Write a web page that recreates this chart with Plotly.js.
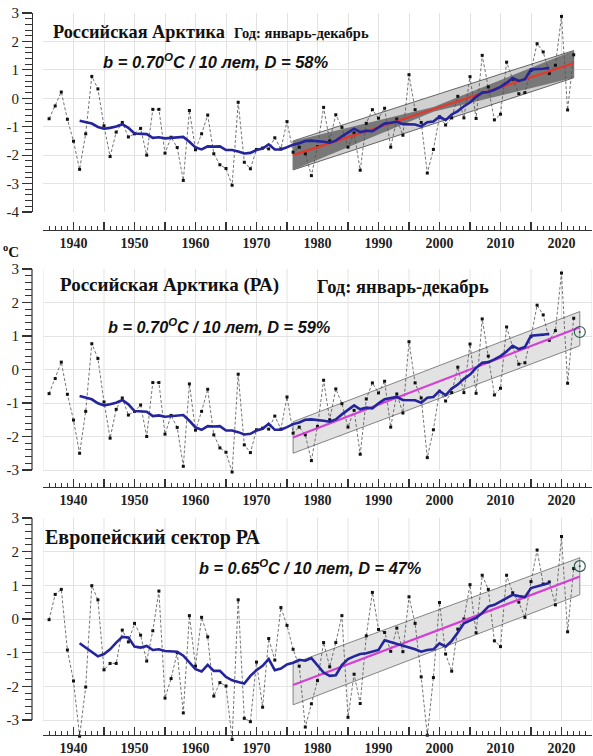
<!DOCTYPE html>
<html><head><meta charset="utf-8">
<script src="https://cdn.plot.ly/plotly-3.0.1.min.js"></script>
<style>html,body{margin:0;padding:0;background:#fff;}#chart{width:593px;height:756px;}</style>
</head><body><div id="chart"></div>
<script>
// ---------- DATA ----------
const firstYear = 1936;           // annual anomalies 1936..2022
const maFirstYear = 1941;         // smoothed curve 1941..2018

const raVals = [-0.72,-0.27,0.22,-0.74,-1.51,
 -2.5,-1.25,0.77,0.33,-0.97, -2.05,-1.19,-0.85,-1.36,-1.25,
 -1.06,-2.0,-0.39,-0.39,-1.93, -1.37,-1.73,-2.89,-0.43,-1.81,
 -1.25,-0.59,-1.95,-2.34,-2.47, -3.06,-0.14,-2.25,-2.48,-1.8,
 -1.75,-1.78,-1.39,-1.78,-0.82, -1.9,-1.72,-1.95,-2.72,-1.7,
 -0.32,-1.5,-0.58,-1.02,-1.72, -1.22,-2.53,-0.88,-0.4,-0.7,
 -0.35,-1.72,-0.73,-1.3,0.83, -0.4,-0.85,-2.63,-1.8,-0.65,
 -0.94,-0.69,0.07,-0.69,0.76, -0.71,1.51,0.4,-0.76,-0.56,
 1.27,0.67,0.16,0.2,0.98, 1.92,1.63,0.87,1.16,2.88,
 -0.41,1.53];

const raMA = [-0.79,-0.84,-0.89,-1.01,-1.07,
 -1.04,-0.99,-0.91,-1.04,-1.24, -1.24,-1.26,-1.39,-1.37,-1.41,
 -1.39,-1.37,-1.36,-1.53,-1.73, -1.8,-1.69,-1.7,-1.69,-1.82,
 -1.82,-1.87,-1.94,-1.92,-1.82, -1.77,-1.62,-1.8,-1.8,-1.72,
 -1.63,-1.58,-1.5,-1.49,-1.5, -1.53,-1.56,-1.49,-1.34,-1.21,
 -1.07,-1.19,-1.14,-1.16,-1.01, -0.89,-0.86,-0.82,-0.91,-0.92,
 -0.92,-0.99,-0.84,-0.82,-0.64, -0.77,-0.57,-0.45,-0.28,-0.15,
 0.05,0.2,0.22,0.3,0.4, 0.54,0.71,0.61,0.67,1.01,
 1.02,1.04,1.07];

const euVals = [-0.02,0.73,0.88,-0.92,-1.84,
 -3.48,-2.02,0.99,0.57,-1.51, -1.32,-1.32,-0.33,-0.68,-0.13,
 -0.48,-1.25,-0.35,0.83,-2.35, -1.77,-1.0,-2.79,0.1,-1.4,
 0.05,-0.53,-2.29,-1.89,-1.99, -3.58,0.57,-2.95,-3.05,-1.28,
 -2.62,-0.58,-1.22,0.34,-0.19, -0.9,-1.4,-3.21,-2.52,-1.83,
 -0.7,-1.42,-0.7,0.1,-2.92, -1.64,-2.51,-0.5,0.79,-0.31,
 -0.4,-0.96,-0.27,-0.97,0.66, -0.13,-1.72,-3.45,-1.74,0.49,
 -1.04,-1.55,-0.3,0.0,1.02, -0.41,1.3,0.88,-0.65,-0.82,
 1.3,0.78,0.5,0.05,1.11, 2.05,1.04,1.1,0.42,2.45,
 -0.38,1.5];

const euMA = [-0.72,-0.85,-1.0,-1.11,-1.04,
 -0.9,-0.7,-0.53,-0.55,-0.82, -0.85,-0.8,-0.92,-0.9,-0.95,
 -0.95,-0.97,-1.09,-1.29,-1.49, -1.56,-1.36,-1.54,-1.54,-1.72,
 -1.82,-1.87,-1.92,-1.69,-1.52, -1.39,-1.19,-1.52,-1.47,-1.35,
 -1.3,-1.21,-1.24,-1.16,-1.39, -1.59,-1.69,-1.67,-1.37,-1.19,
 -1.11,-1.04,-1.02,-0.98,-0.92, -0.63,-0.68,-0.75,-0.8,-0.85,
 -0.9,-0.97,-0.92,-0.9,-0.72, -0.82,-0.65,-0.4,-0.13,-0.05,
 0.03,0.18,0.37,0.42,0.52, 0.62,0.72,0.68,0.65,0.92,
 0.97,1.01,1.07];

// trends (1976 -> end) and their bands
const trend1Years = [1976, 2022];
const trend1Vals  = [-2.0, 1.23];
const band1Lower  = [-2.52, 0.72];
const band1Upper  = [-1.5, 1.68];
const band1DarkYears = [1976, 1999, 2022];
const band1DarkUpper = [-1.5, -0.31, 1.68];
const band1DarkLower = [-2.52, -0.47, 0.72];

const trend2Years = [1976, 2023];
const trend2Vals  = [-2.03, 1.26];
const band2Lower  = [-2.5, 0.71];
const band2Upper  = [-1.56, 1.73];

const trend3Years = [1976, 2023];
const trend3Vals  = [-1.96, 1.26];
const band3Lower  = [-2.55, 0.72];
const band3Upper  = [-1.32, 1.82];

const lastYear = [2023];
const lastRA = [1.12];
const lastEU = [1.57];

const xTickVals = [1935,1940,1945,1950,1955,1960,1965,1970,1975,1980,1985,1990,1995,2000,2005,2010,2015,2020,2025];
const xTickText = ['','1940','','1950','','1960','','1970','','1980','','1990','','2000','','2010','','2020',''];
const y1Ticks = [-4,-3,-2,-1,0,1,2,3];
const y23Ticks = [-3,-2,-1,0,1,2,3];

// ---------- BUILD ----------
const years = raVals.map((_, i) => firstYear + i);
const maYears = raMA.map((_, i) => maFirstYear + i);

const W = 593, H = 756;
const px = v => v / W;
const py = v => 1 - v / H;

function poly(yrs, lo, hi) {
  return { x: yrs.concat(yrs.slice().reverse()).concat([yrs[0]]),
           y: lo.concat(hi.slice().reverse()).concat([lo[0]]) };
}

function dataTrace(vals, xa, ya) {
  return { x: years, y: vals, xaxis: xa, yaxis: ya, type: 'scatter', mode: 'lines+markers',
    line: { color: '#505050', width: 0.8, dash: '3px,2px' },
    marker: { symbol: 'square', size: 3, color: '#111' }, hoverinfo: 'skip' };
}
function maTrace(vals, xa, ya) {
  return { x: maYears, y: vals, xaxis: xa, yaxis: ya, type: 'scatter', mode: 'lines',
    line: { color: '#24249c', width: 2.6 }, hoverinfo: 'skip' };
}
function bandTrace(yrs, lo, hi, xa, ya, fill, lc) {
  const p = poly(yrs, lo, hi);
  return { x: p.x, y: p.y, xaxis: xa, yaxis: ya, type: 'scatter', mode: 'lines', fill: 'toself',
    fillcolor: fill, line: { color: lc, width: lc === 'rgba(0,0,0,0)' ? 0 : 0.9 }, hoverinfo: 'skip' };
}
function lineTrace(xs, ys, xa, ya, color) {
  return { x: xs, y: ys, xaxis: xa, yaxis: ya, type: 'scatter', mode: 'lines',
    line: { color: color, width: 2.2 }, hoverinfo: 'skip' };
}
function circleTrace(vals, xa, ya) {
  return { x: lastYear, y: vals, xaxis: xa, yaxis: ya, type: 'scatter', mode: 'markers',
    marker: { symbol: 'circle-open-dot', size: 11, color: '#2f5d52', line: { width: 1.2 } },
    cliponaxis: false, hoverinfo: 'skip' };
}

const traces = [
  bandTrace(trend1Years, band1Lower, band1Upper, 'x', 'y', '#d0d0d0', '#555'),
  bandTrace(band1DarkYears, band1DarkLower, band1DarkUpper, 'x', 'y', '#787878', 'rgba(0,0,0,0)'),
  dataTrace(raVals, 'x', 'y'),
  lineTrace(trend1Years, trend1Vals, 'x', 'y', '#e5372a'),
  maTrace(raMA, 'x', 'y'),

  bandTrace(trend2Years, band2Lower, band2Upper, 'x2', 'y2', '#e2e2e2', '#777'),
  dataTrace(raVals, 'x2', 'y2'),
  lineTrace(trend2Years, trend2Vals, 'x2', 'y2', '#d43fd4'),
  maTrace(raMA, 'x2', 'y2'),
  circleTrace(lastRA, 'x2', 'y2'),

  bandTrace(trend3Years, band3Lower, band3Upper, 'x3', 'y3', '#e2e2e2', '#777'),
  dataTrace(euVals, 'x3', 'y3'),
  lineTrace(trend3Years, trend3Vals, 'x3', 'y3', '#d43fd4'),
  maTrace(euMA, 'x3', 'y3'),
  circleTrace(lastEU, 'x3', 'y3')
];

const AX = '#333';
const GRID = '#e3e3e3';
function xax(posPx, grid) {
  return { domain: [px(43), px(592)], range: [1935, 2025], anchor: 'free', position: py(posPx),
    tickmode: 'array', tickvals: xTickVals, ticktext: xTickText,
    ticks: 'inside', ticklen: 8, tickwidth: 1.2, tickcolor: AX,
    showline: true, linecolor: AX, linewidth: 1.2,
    showgrid: grid, gridcolor: GRID, gridwidth: 1, zeroline: false,
    tickfont: { family: 'Liberation Serif', size: 14, color: '#222', weight: 'bold' },
    minor: { tickmode: 'linear', tick0: 1935, dtick: 1, ticks: 'inside', ticklen: 4, tickwidth: 1, tickcolor: AX, showgrid: false },
    fixedrange: true };
}
function minorVals(lo, hi) {
  const out = [];
  for (let k = Math.round(lo * 5); k <= Math.round(hi * 5); k++) out.push(k / 5);
  return out;
}
function yax(topPx, botPx, range, ticks, showline) {
  return { domain: [py(botPx), py(topPx)], range: range, anchor: 'free', position: px(32), side: 'left',
    tickmode: 'array', tickvals: ticks, ticktext: ticks.map(String),
    ticks: 'outside', ticklen: 10, tickwidth: 1.2, tickcolor: AX,
    showline: showline, linecolor: AX, linewidth: 1.2,
    showgrid: true, gridcolor: GRID, gridwidth: 1, zeroline: false,
    tickfont: { family: 'Liberation Serif', size: 15, color: '#222' },
    minor: { tickmode: 'array', tickvals: minorVals(ticks[0], ticks[ticks.length - 1]), ticks: 'outside', ticklen: 7, tickwidth: 1, tickcolor: AX, showgrid: false },
    fixedrange: true };
}

// panel 2 and 3 extend below -3 so deep dips are not clipped; draw axis line and vertical grid as shapes
const shapes = [];
[['x2', 'y2'], ['x3', 'y3']].forEach(([xa, ya]) => {
  xTickVals.forEach(v => shapes.push({ type: 'line', xref: xa, yref: ya, x0: v, x1: v, y0: -3, y1: 3,
    line: { color: GRID, width: 1 }, layer: 'below' }));
  shapes.push({ type: 'line', xref: 'paper', yref: ya, x0: px(32), x1: px(32), y0: -3, y1: 3,
    line: { color: AX, width: 1.2 } });
});

const serif = 'Liberation Serif, Times New Roman, serif';
const sans = 'Liberation Sans, Arial, sans-serif';
function ann(text, xPx, yPx, family, size) {
  return { text: text, xref: 'paper', yref: 'paper', x: px(xPx), y: py(yPx), xanchor: 'left', yanchor: 'middle',
    showarrow: false, borderpad: 0, font: { family: family, size: size, color: '#111' } };
}
const annotations = [
  ann('<b>Российская Арктика</b>', 52, 32, serif, 18.3),
  ann('<b>Год: январь-декабрь</b>', 233, 33, serif, 14.5),
  ann('<b><i>b = 0.70<sup>O</sup>C / 10 лет, D = 58%</i></b>', 102, 61, sans, 16.5),

  ann('<b><sup>o</sup>C</b>', 2, 251, serif, 15),
  ann('<b>Российская Арктика (РА)</b>', 59, 285, serif, 19),
  ann('<b>Год: январь-декабрь</b>', 316, 287, serif, 18.5),
  ann('<b><i>b = 0.70<sup>O</sup>C / 10 лет, D = 59%</i></b>', 107, 326, sans, 16.3),

  ann('<b>Европейский сектор РА</b>', 44, 537, serif, 20),
  ann('<b><i>b = 0.65<sup>O</sup>C / 10 лет, D = 47%</i></b>', 198, 567, sans, 16.3)
];

const layout = {
  width: W, height: H, margin: { l: 0, r: 0, t: 0, b: 0 },
  paper_bgcolor: '#fff', plot_bgcolor: '#fff', showlegend: false,
  xaxis: xax(230, true),
  yaxis: yax(13, 212, [-4, 3], y1Ticks, true),
  xaxis2: xax(487, false),
  yaxis2: yax(269, 480, [-3.3, 3], y23Ticks, false),
  xaxis3: xax(735, false),
  yaxis3: yax(518, 742, [-3.65, 3], y23Ticks, false),
  shapes: shapes,
  annotations: annotations
};
// fix domain mapping so -3..3 spans the measured pixel rows
layout.yaxis2.domain = [py(470 + 0.3 * (201 / 6)), py(269)];
layout.yaxis3.domain = [py(720 + 0.65 * (202 / 6)), py(518)];

Plotly.newPlot('chart', traces, layout, { staticPlot: true, displayModeBar: false });
</script>
</body></html>
